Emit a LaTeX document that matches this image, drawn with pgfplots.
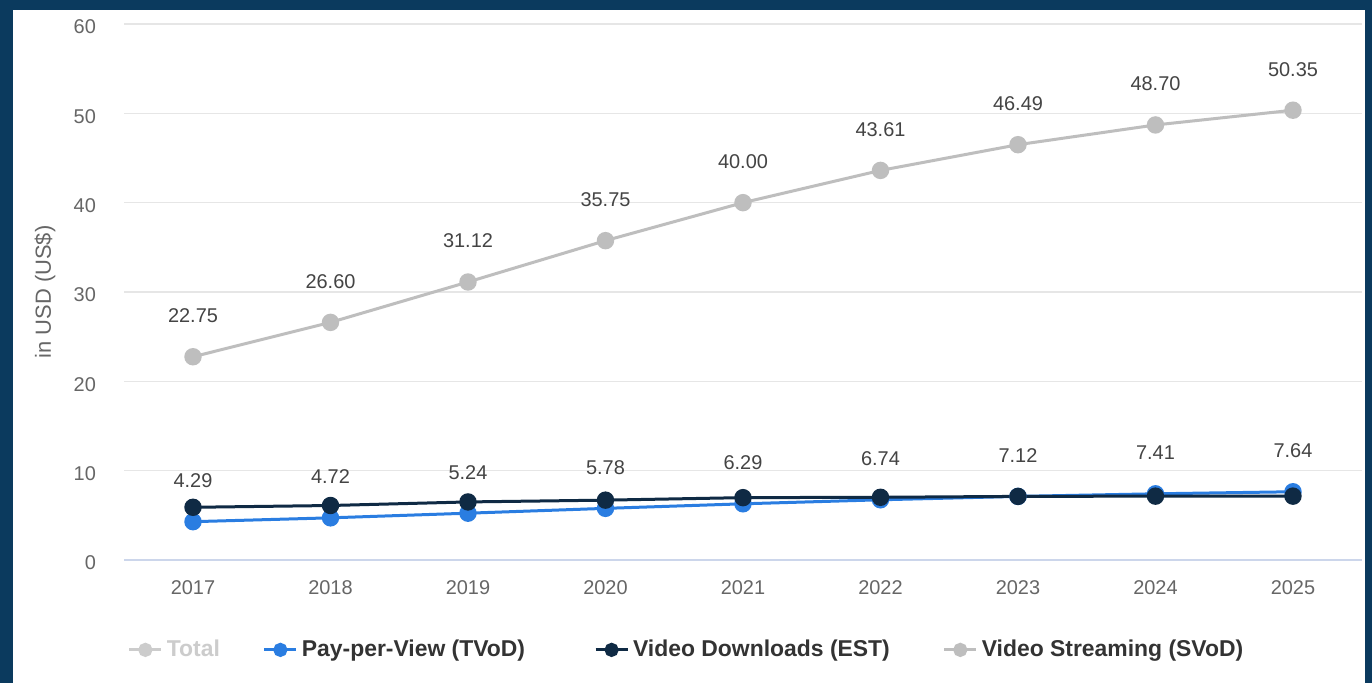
\documentclass[border=0pt]{standalone}
\usepackage{fontspec}
\setmainfont{Liberation Sans}
\usepackage{pgfplots}
\pgfplotsset{compat=1.18}
\definecolor{framec}{HTML}{0B3A5E}
\definecolor{svod}{HTML}{BEBEBE}
\definecolor{tvod}{HTML}{2A7DE1}
\definecolor{est}{HTML}{0F2A44}
\definecolor{gridc}{HTML}{E6E6E6}
\definecolor{axisc}{HTML}{CCD6EB}
\definecolor{tickc}{HTML}{666666}
\definecolor{lblc}{HTML}{444444}
\definecolor{legc}{HTML}{333333}
\definecolor{hiddenc}{HTML}{CCCCCC}
\begin{document}
\begin{tikzpicture}
\fill[framec] (-62.125bp,-61.5bp) rectangle (623.875bp,280bp);
\fill[white] (-55.75bp,-61.5bp) rectangle (620.25bp,275bp);
\begin{axis}[
  at={(0,0)}, anchor=south west, scale only axis,
  width=618.75bp, height=268bp,
  xmin=-0.5, xmax=8.5, ymin=0, ymax=60,
  xtick={0,...,8},
  xticklabels={2017,2018,2019,2020,2021,2022,2023,2024,2025},
  ytick={0,10,...,60},
  /pgf/number format/assume math mode=true,
  axis line style={draw=none},
  major tick length=0pt,
  ymajorgrids, grid style={gridc, line width=0.75bp},
  xticklabel style={font=\fontsize{10}{12}\selectfont, text=tickc, anchor=center, inner sep=0pt, yshift=-14bp},
  yticklabel style={font=\fontsize{10}{12}\selectfont, text=tickc, anchor=east, inner sep=0pt, xshift=-14bp, yshift=-1.5bp},
  ylabel={in USD (US\$)},
  every axis y label/.style={at={(axis description cs:-0.0641,0.5)}, rotate=90, anchor=center, font=\fontsize{11}{13}\selectfont, text=tickc},
  legend style={at={(axis description cs:0.4552,-0.1677)}, anchor=center, draw=none, fill=none,
    font=\bfseries\fontsize{11.5}{14}\selectfont, text=legc,
    /tikz/every even column/.append style={column sep=19.5bp}},
  legend columns=4,
  legend cell align=left,
  legend image code/.code={\draw[#1, mark size=2.8bp, mark repeat=2, mark phase=2] plot coordinates {(0bp,0bp) (8bp,0bp) (16bp,0bp)};},
  nodes near coords={\pgfmathprintnumber[fixed,fixed zerofill,precision=2]{\pgfplotspointmeta}},
  every node near coord/.style={font=\fontsize{10}{12}\selectfont, text=lblc, anchor=center, yshift=20.5bp},
  clip=false,
]
\addlegendimage{hiddenc, line width=1.5bp, mark=*}
\addlegendentry{\textcolor{hiddenc}{Total}}
\addplot[tvod, line width=1.5bp, mark=*, mark size=3.6bp] coordinates {
(0,4.29) (1,4.72) (2,5.24) (3,5.78) (4,6.29) (5,6.74) (6,7.12) (7,7.41) (8,7.64)};
\addlegendentry{Pay-per-View (TVoD)\hspace*{13bp}}
\addplot[est, line width=1.5bp, mark=*, mark size=3.6bp, nodes near coords={}] coordinates {
(0,5.90) (1,6.10) (2,6.50) (3,6.70) (4,6.98) (5,7.02) (6,7.12) (7,7.15) (8,7.15)};
\addlegendentry{Video Downloads (EST)\hspace*{5bp}}
\addplot[svod, line width=1.5bp, mark=*, mark size=3.6bp] coordinates {
(0,22.75) (1,26.60) (2,31.12) (3,35.75) (4,40.00) (5,43.61) (6,46.49) (7,48.70) (8,50.35)};
\addlegendentry{Video Streaming (SVoD)}
\draw[axisc, line width=0.75bp] (axis cs:-0.5,0) -- (axis cs:8.5,0);
\end{axis}
\pgfresetboundingbox
\path[use as bounding box] (-62.125bp,-61.5bp) rectangle (623.875bp,280bp);
\end{tikzpicture}
\end{document}
